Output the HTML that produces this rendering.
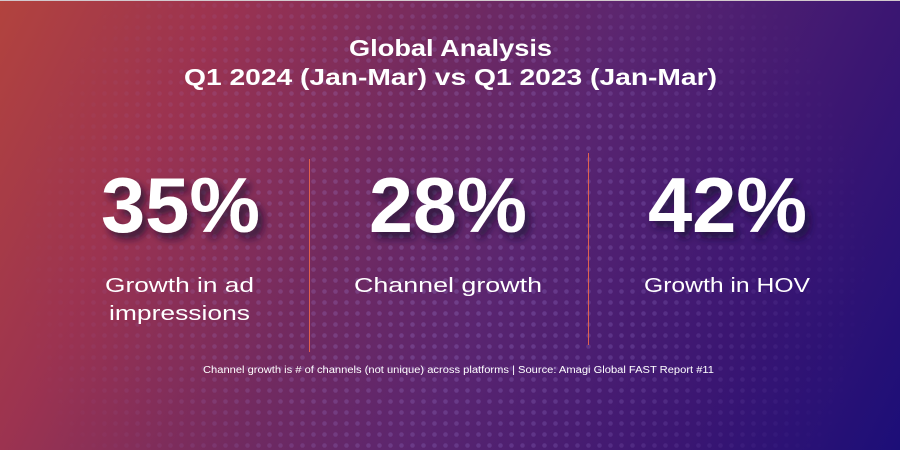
<!DOCTYPE html>
<html>
<head>
<meta charset="utf-8">
<style>
  html, body { margin:0; padding:0; background:#1c0e78; }
  body { width:900px; height:450px; overflow:hidden; }
  svg { display:block; }
</style>
</head>
<body>
<svg width="900" height="450" viewBox="0 0 900 450" xmlns="http://www.w3.org/2000/svg">
  <defs>
    <linearGradient id="bg" gradientUnits="userSpaceOnUse" x1="0" y1="0" x2="900" y2="450">
      <stop offset="0" stop-color="#b2433e"/>
      <stop offset="0.2" stop-color="#9c3350"/>
      <stop offset="0.41" stop-color="#712a60"/>
      <stop offset="0.57" stop-color="#5a2570"/>
      <stop offset="0.8" stop-color="#3b1672"/>
      <stop offset="1" stop-color="#1c0e78"/>
    </linearGradient>
    <pattern id="dots" width="11" height="11" patternUnits="userSpaceOnUse">
      <circle cx="5.5" cy="5.5" r="2.3" fill="#a58ae0"/>
    </pattern>
    <radialGradient id="fade" gradientUnits="userSpaceOnUse" cx="445" cy="260" r="430">
      <stop offset="0" stop-color="#fff" stop-opacity="0.26"/>
      <stop offset="0.5" stop-color="#fff" stop-opacity="0.2"/>
      <stop offset="1" stop-color="#fff" stop-opacity="0"/>
    </radialGradient>
    <mask id="m">
      <rect width="900" height="450" fill="url(#fade)"/>
    </mask>
    <filter id="sh" x="-20%" y="-30%" width="150%" height="170%">
      <feDropShadow dx="5" dy="6" stdDeviation="4" flood-color="#1a0a30" flood-opacity="0.75"/>
    </filter>
  </defs>

  <rect width="900" height="450" fill="url(#bg)"/>
  <rect width="900" height="450" fill="url(#dots)" mask="url(#m)"/>
  <rect x="0" y="0" width="900" height="1" fill="#d2c9cd"/>

  <g font-family="'Liberation Sans', Arial, sans-serif" fill="#ffffff">
    <text x="450.5" y="56" font-size="23" font-weight="bold" text-anchor="middle" textLength="203" lengthAdjust="spacingAndGlyphs">Global Analysis</text>
    <text x="450.5" y="85" font-size="23" font-weight="bold" text-anchor="middle" textLength="533" lengthAdjust="spacingAndGlyphs">Q1 2024 (Jan-Mar) vs Q1 2023 (Jan-Mar)</text>

    <g filter="url(#sh)" font-size="78" font-weight="bold">
      <text x="101" y="232" textLength="159" lengthAdjust="spacingAndGlyphs">35%</text>
      <text x="369" y="232" textLength="158" lengthAdjust="spacingAndGlyphs">28%</text>
      <text x="648" y="232" textLength="159" lengthAdjust="spacingAndGlyphs">42%</text>
    </g>

    <g font-size="20">
      <text x="105" y="292" textLength="149" lengthAdjust="spacingAndGlyphs">Growth in ad</text>
      <text x="109" y="320" textLength="141" lengthAdjust="spacingAndGlyphs">impressions</text>
      <text x="354" y="292" textLength="188" lengthAdjust="spacingAndGlyphs">Channel growth</text>
      <text x="644" y="292" textLength="166" lengthAdjust="spacingAndGlyphs">Growth in HOV</text>
    </g>

    <text x="203" y="373" font-size="10" textLength="511" lengthAdjust="spacingAndGlyphs">Channel growth is # of channels (not unique) across platforms | Source: Amagi Global FAST Report #11</text>
  </g>

  <rect x="309" y="159" width="1" height="193" fill="#e0624f"/>
  <rect x="588" y="153" width="1" height="192" fill="#e0624f"/>
</svg>
</body>
</html>
